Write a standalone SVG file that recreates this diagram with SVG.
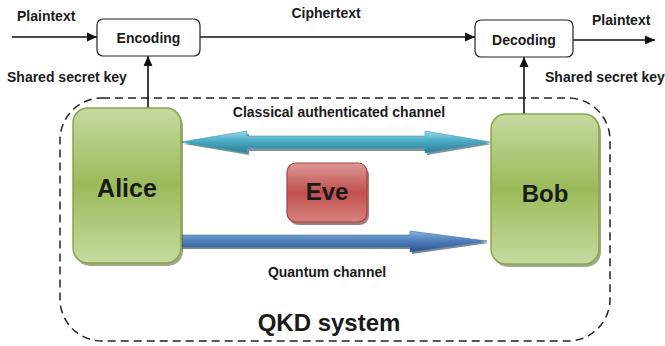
<svg xmlns="http://www.w3.org/2000/svg" width="665" height="346" viewBox="0 0 665 346">
<style>
text{font-family:"Liberation Sans",Arial,sans-serif;font-weight:bold;fill:#1a1a1a}
.lbl{font-size:14px}
.big{font-size:24px}
.box{fill:#fff;stroke:#222;stroke-width:1.2}
.ln{stroke:#111;stroke-width:1.6;fill:none}
</style>
<defs>
<marker id="ah" viewBox="0 0 10 10" refX="10" refY="5" markerWidth="10" markerHeight="10" markerUnits="userSpaceOnUse" orient="auto">
<path d="M0,0.5 L10,5 L0,9.5 z" fill="#111"/>
</marker>
<linearGradient id="gGreen" x1="0" y1="0" x2="0" y2="1">
<stop offset="0" stop-color="#c6d9a0"/>
<stop offset="0.5" stop-color="#9bbb59"/>
<stop offset="1" stop-color="#c6d9a0"/>
</linearGradient>
<linearGradient id="gRed" x1="0" y1="0" x2="0" y2="1">
<stop offset="0" stop-color="#dc9897"/>
<stop offset="0.5" stop-color="#c0504d"/>
<stop offset="1" stop-color="#d7827f"/>
</linearGradient>
<linearGradient id="gCyan" x1="0" y1="0" x2="0" y2="1">
<stop offset="0" stop-color="#9ad8e8"/>
<stop offset="0.45" stop-color="#4bacc6"/>
<stop offset="1" stop-color="#2b7a90"/>
</linearGradient>
<linearGradient id="gBlue" x1="0" y1="0" x2="0" y2="1">
<stop offset="0" stop-color="#8cb0dd"/>
<stop offset="0.45" stop-color="#4f81bd"/>
<stop offset="1" stop-color="#2d5184"/>
</linearGradient>
</defs>

<rect x="60" y="98" width="550" height="243" rx="42" fill="none" stroke="#222" stroke-width="1.5" stroke-dasharray="8 5"/>

<g id="connectors">
<line class="ln" x1="12" y1="37" x2="97" y2="37" marker-end="url(#ah)"/>
<line class="ln" x1="200" y1="37" x2="475" y2="37" marker-end="url(#ah)"/>
<line class="ln" x1="573" y1="40" x2="655" y2="40" marker-end="url(#ah)"/>
<line class="ln" x1="148" y1="108" x2="148" y2="56" marker-end="url(#ah)"/>
<line class="ln" x1="524" y1="114" x2="524" y2="57" marker-end="url(#ah)"/>
<g id="classical">
<polygon points="184,144 249,134 249,139 427,139 427,134 492,144 427,155 427,151 249,151 249,155" fill="#1f4e5c" opacity="0.6"/>
<polygon points="181,142 247,131 247,136 425,136 425,131 490,142 425,153 425,148 247,148 247,153" fill="url(#gCyan)" stroke="#3a9ab3" stroke-width="0.6"/>
</g>
<g id="quantum">
<polygon points="182,237 412,237 412,233 489,243 412,254 412,249 182,249" fill="#1f3a60" opacity="0.6"/>
<polygon points="182,235 410,235 410,231 487,241 410,252 410,247 182,247" fill="url(#gBlue)" stroke="#3f6fa8" stroke-width="0.6"/>
</g>
</g>

<g id="encoding">
<rect class="box" x="97" y="19" width="103" height="37" rx="6"/>
<text class="lbl" x="148.5" y="43" text-anchor="middle">Encoding</text>
</g>
<g id="decoding">
<rect class="box" x="475" y="20" width="98" height="37" rx="6"/>
<text class="lbl" x="524" y="45" text-anchor="middle">Decoding</text>
</g>

<g id="alice">
<rect x="75" y="111" width="108" height="155" rx="15" fill="#4f6228" opacity="0.55"/>
<rect x="73" y="108" width="108" height="155" rx="15" fill="url(#gGreen)" stroke="#87a64a" stroke-width="1.5"/>
<text x="127" y="197" font-size="25" text-anchor="middle">Alice</text>
</g>
<g id="bob">
<rect x="493" y="117" width="108" height="150" rx="15" fill="#4f6228" opacity="0.55"/>
<rect x="491" y="114" width="108" height="150" rx="15" fill="url(#gGreen)" stroke="#87a64a" stroke-width="1.5"/>
<text class="big" x="545" y="202" text-anchor="middle">Bob</text>
</g>
<g id="eve">
<rect x="289" y="166" width="80" height="59" rx="9" fill="#632523" opacity="0.6"/>
<rect x="287" y="163" width="80" height="59" rx="9" fill="url(#gRed)" stroke="#a8423f" stroke-width="1.2"/>
<text class="big" x="327" y="200" text-anchor="middle">Eve</text>
</g>

<text class="lbl" x="17" y="21">Plaintext</text>
<text class="lbl" x="326" y="18" text-anchor="middle">Ciphertext</text>
<text class="lbl" x="592" y="25">Plaintext</text>
<text class="lbl" x="7" y="82">Shared secret key</text>
<text class="lbl" x="545" y="82">Shared secret key</text>
<text class="lbl" x="339" y="117" text-anchor="middle">Classical authenticated channel</text>
<text class="lbl" x="327" y="277" text-anchor="middle">Quantum channel</text>
<text x="329" y="331" font-size="24" text-anchor="middle">QKD system</text>
</svg>
